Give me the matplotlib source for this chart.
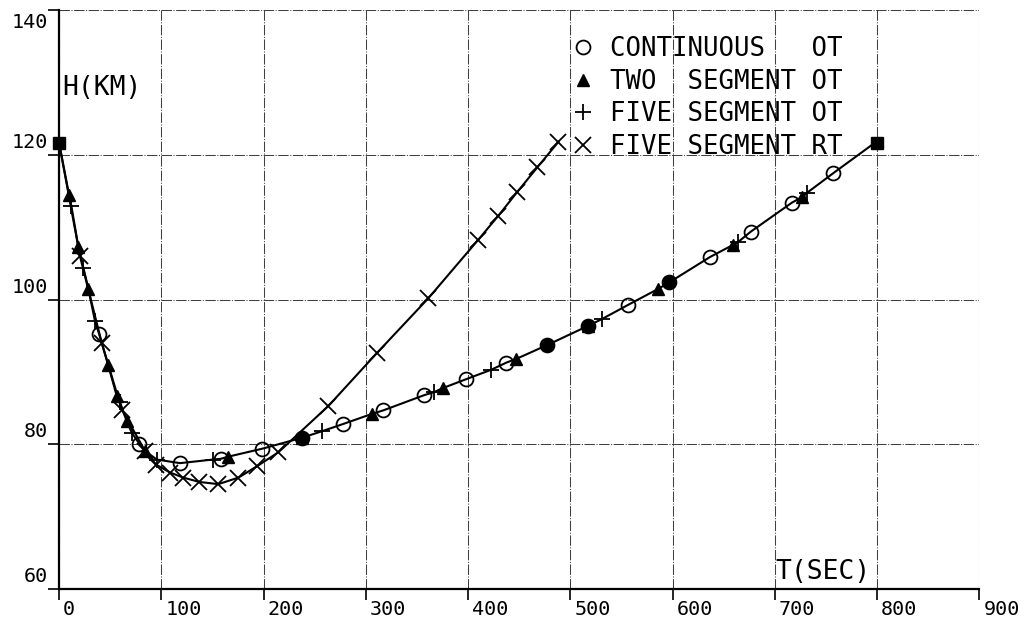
import numpy as np
import matplotlib.pyplot as plt
from matplotlib.lines import Line2D
from matplotlib.transforms import ScaledTranslation

# common path of the three optimal-trajectory (OT) solutions
ot_t = [0, 9.8, 12, 18.9, 23.8, 28.7, 35.2, 39.1, 48.2, 56.4, 59.7, 66.2, 71.1, 78.5, 84.1,
        95.5, 118.3, 150.6, 158.1, 165.6, 198.8, 237.4, 256.9, 277.6, 305.8, 317.2, 357.1,
        366.4, 375.8, 398, 422.5, 437.5, 447, 477, 517.7, 530.7, 556.8, 586.1, 596.9, 636.7,
        659.5, 664.4, 676.5, 716.6, 726.9, 731.8, 757.3, 798]
ot_h = [121.7, 114.5, 113.0, 107.3, 104.4, 101.5, 97.0, 95.3, 90.9, 86.7, 85.8, 83.2, 81.6, 80.1, 79.1,
        77.9, 77.4, 77.9, 78.0, 78.3, 79.4, 80.9, 81.8, 82.8, 84.2, 84.7, 86.8,
        87.2, 87.8, 89.0, 90.3, 91.3, 91.8, 93.7, 96.4, 97.3, 99.3, 101.5, 102.4, 105.9,
        107.6, 108.0, 109.4, 113.4, 114.2, 114.8, 117.5, 121.7]

# continuous OT (circles)
cont_t = [39.1, 78.5, 118.3, 158.1, 198.8, 237.4, 277.6, 317.2, 357.1, 398, 437.5, 477,
          517.7, 556.8, 596.9, 636.7, 676.5, 716.6, 757.3]
cont_h = [95.3, 80.1, 77.4, 78.0, 79.4, 80.9, 82.8, 84.7, 86.8, 89.0, 91.3, 93.7,
          96.4, 99.3, 102.4, 105.9, 109.4, 113.4, 117.5]
cont_filled = [0, 0, 0, 0, 0, 1, 0, 0, 0, 0, 0, 1, 1, 0, 1, 0, 0, 0, 0]

# two segment OT (triangles)
two_t = [9.8, 18.9, 28.7, 48.2, 56.4, 66.2, 84.1, 165.6, 237.4, 305.8, 375.8, 447,
         517.7, 586.1, 659.5, 726.9]
two_h = [114.5, 107.3, 101.5, 90.9, 86.7, 83.2, 79.1, 78.3, 80.9, 84.2, 87.8, 91.8,
         96.4, 101.5, 107.6, 114.2]

# five segment OT (plus)
five_t = [12, 23.8, 35.2, 59.7, 71.1, 95.5, 150.6, 256.9, 366.4, 422.5, 530.7, 664.4, 731.8]
five_h = [113.0, 104.4, 97.0, 85.8, 81.6, 77.9, 77.9, 81.8, 87.2, 90.3, 97.3, 108.0, 114.8]

# five segment RT (crosses)
rt_t = [0, 20.5, 41.8, 61.3, 84.1, 94.9, 108.6, 121.6, 137.2, 155.8, 175.4, 193.9, 214.5,
        263.4, 310.7, 361.2, 410.1, 429.6, 448.2, 467.8, 488.3]
rt_h = [121.7, 106.0, 94.0, 84.8, 79.1, 77.2, 76.1, 75.4, 74.8, 74.5, 75.4, 77.0, 78.9,
        85.3, 92.6, 100.2, 108.3, 111.6, 114.9, 118.3, 121.8]

# start / end points
end_t = [0, 800]
end_h = [121.7, 121.7]

labels = ["CONTINUOUS   OT", "TWO  SEGMENT OT", "FIVE SEGMENT OT", "FIVE SEGMENT RT"]

mono = "DejaVu Sans Mono"

fig = plt.figure(figsize=(10.34, 6.21), dpi=100)
ax = fig.add_axes([0.0571, 0.0515, 0.8900, 0.9319])

ax.plot(ot_t, ot_h, color="black", lw=1.5, zorder=3)
ax.plot(rt_t, rt_h, color="black", lw=1.5, zorder=3)

circ = dict(marker="o", ms=10, mfc="none", mec="black", mew=1.3, ls="none")
tri = dict(marker="^", ms=8, mfc="black", mec="black", ls="none")
plus = dict(marker="+", ms=12, mec="black", mew=1.3, ls="none")
cross = dict(marker="x", ms=11, mec="black", mew=1.3, ls="none")

ax.plot(cont_t, cont_h, zorder=4, **circ)
filled = np.array(cont_filled, dtype=bool)
ax.plot(np.array(cont_t)[filled], np.array(cont_h)[filled], "o", ms=9, color="black", zorder=4)
ax.plot(two_t, two_h, zorder=4, **tri)
ax.plot(five_t, five_h, zorder=4, **plus)
ax.plot(rt_t[1:], rt_h[1:], zorder=4, **cross)
ax.plot(end_t, end_h, "s", ms=8, color="black", zorder=5, clip_on=False)

ax.set_xlim(0, 900)
ax.set_ylim(60, 140)
ax.set_xticks(range(0, 1000, 100))
ax.set_yticks(range(60, 160, 20))

ax.grid(True, color="0.25", lw=0.75, ls=(0, (10, 1.5, 1, 1.5)))
for s in ["top", "right"]:
    ax.spines[s].set_visible(False)
for s in ["left", "bottom"]:
    ax.spines[s].set_linewidth(1.6)

ax.tick_params(direction="out", length=8, width=1.2, pad=0, labelsize=14.5)
for lab in ax.get_xticklabels():
    lab.set_fontfamily(mono)
    lab.set_horizontalalignment("left")
    lab.set_transform(lab.get_transform() + ScaledTranslation(4 / 100, 0, fig.dpi_scale_trans))
for lab in ax.get_yticklabels():
    lab.set_fontfamily(mono)
    lab.set_verticalalignment("bottom")
    lab.set_transform(lab.get_transform() + ScaledTranslation(0, 3 / 100, fig.dpi_scale_trans))
ax.get_yticklabels()[-1].set_verticalalignment("top")
ax.get_yticklabels()[-1].set_transform(ax.get_yticklabels()[-1].get_transform()
                                       + ScaledTranslation(0, -6 / 100, fig.dpi_scale_trans))

ax.text(3.5, 129.3, "H(KM)", family=mono, fontsize=19, ha="left", va="center")
ax.text(700.5, 60.6, "T(SEC)", family=mono, fontsize=19, ha="left", va="bottom")

handles = [Line2D([], [], **circ), Line2D([], [], **tri),
           Line2D([], [], **plus), Line2D([], [], **cross)]
ax.legend(handles, labels, loc="upper left", bbox_to_anchor=(570 / 1034, 1 - 36 / 621),
          bbox_transform=fig.transFigure, frameon=False, borderpad=0, borderaxespad=0,
          handlelength=1.0, handletextpad=0.55, labelspacing=0.26,
          prop=dict(family=mono, size=18.5))

fig.savefig("out.png", dpi=100)
